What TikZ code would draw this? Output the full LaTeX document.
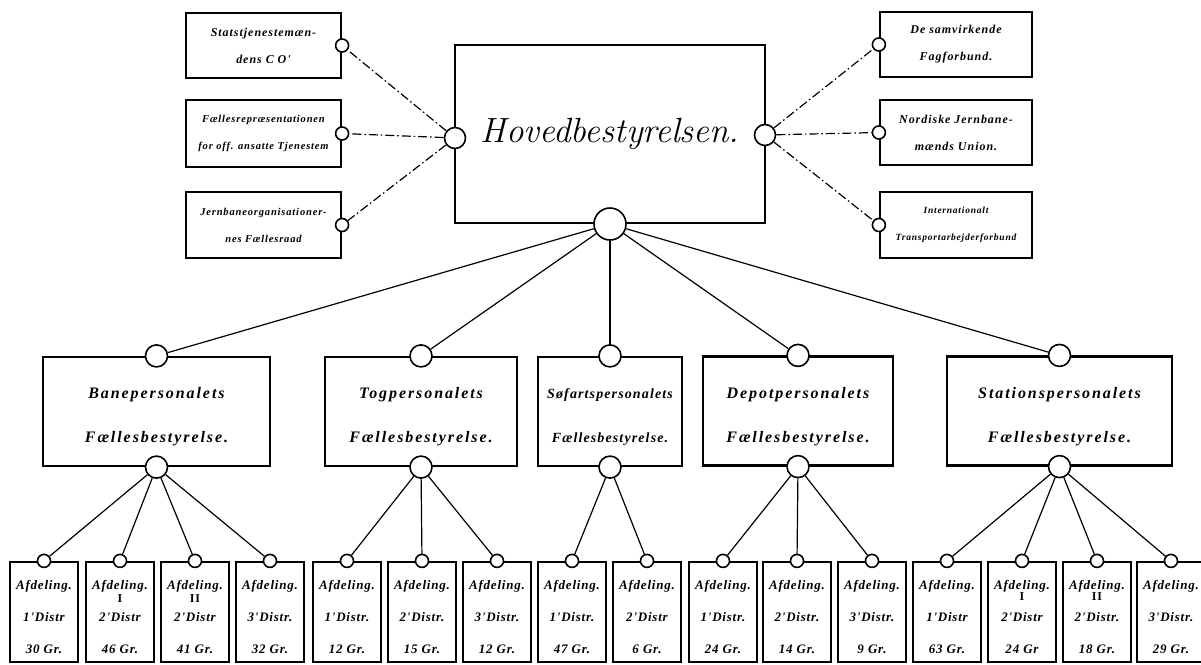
\documentclass[tikz,border=0pt]{standalone}
\usepackage{fontspec}
\newfontfamily\hand{Liberation Serif}[LetterSpace=8]
\newfontfamily\handwide{Liberation Serif}[LetterSpace=12]
\newfontfamily\handbot{Liberation Serif}[LetterSpace=6]
\newcommand\midstrut{\rule{0pt}{22pt}}
\newcommand\botstrut{\rule{0pt}{19pt}}
\begin{document}
\begin{tikzpicture}[x=1pt,y=-1pt,
  box/.style={draw, line width=2.2pt, fill=white, inner sep=0pt, align=center},
  side/.style={box, minimum width=155pt, font=\hand\bfseries\itshape\fontsize{10.5}{27}\selectfont},
  sidebig/.style={side, font=\hand\bfseries\itshape\fontsize{12}{27}\selectfont},
  mid/.style={box, minimum height=109pt, font=\handwide\bfseries\itshape\fontsize{16}{44}\selectfont},
  bot/.style={box, minimum width=68pt, minimum height=100pt, font=\handbot\bfseries\itshape\fontsize{13}{32}\selectfont},
  roman/.style={inner sep=0pt, font=\handbot\bfseries\fontsize{12}{12}\selectfont},
  knob/.style={circle, draw, fill=white, line width=1.6pt, inner sep=0pt, minimum size=#1},
  conn/.style={line width=1.2pt},
  dd/.style={line width=1.2pt, dash pattern=on 9pt off 3pt on 1.5pt off 3pt}
]
\fill[white] (0,0) rectangle (1201,664);
\useasboundingbox (0,0) rectangle (1201,664);

% central box
\node[box, minimum width=310pt, minimum height=178pt, font=\itshape\fontsize{35}{40}\selectfont] (hb) at (610,134) {Hovedbestyrelsen.};

% left side boxes
\node[sidebig, minimum height=65pt] (l1) at (263.5,45.5) {Statstjenestemæn-\\dens C O'};
\node[side, minimum height=67pt] (l2) at (263.5,133.5) {Fællesrepræsentationen\\for off. ansatte Tjenestem};
\node[side, minimum height=66pt] (l3) at (263.5,225) {Jernbaneorganisationer-\\nes Fællesraad};

% right side boxes
\node[sidebig, minimum width=152pt, minimum height=65pt] (r1) at (956,44.5) {De samvirkende\\Fagforbund.};
\node[sidebig, minimum width=152pt, minimum height=65pt] (r2) at (956,132.5) {Nordiske Jernbane-\\mænds Union.};
\node[side, minimum width=152pt, minimum height=66pt, font=\hand\bfseries\itshape\fontsize{9.5}{27}\selectfont] (r3) at (956,225) {Internationalt\\Transportarbejderforbund};

% middle row
\node[mid, minimum width=227pt] (m1) at (156.5,411.5) {\midstrut Banepersonalets\\Fællesbestyrelse.};
\node[mid, minimum width=192pt] (m2) at (421,411.5) {\midstrut Togpersonalets\\Fællesbestyrelse.};
\node[mid, minimum width=144pt, font=\hand\bfseries\itshape\fontsize{14}{44}\selectfont] (m3) at (610,411.5) {\midstrut Søfartspersonalets\\Fællesbestyrelse.};
\node[mid, minimum width=190pt] (m4) at (798,411) {\midstrut Depotpersonalets\\Fællesbestyrelse.};
\node[mid, minimum width=225pt] (m5) at (1059.5,411) {\midstrut Stationspersonalets\\Fællesbestyrelse.};

% bottom row
\foreach \i/\x/\a/\b in {
  1/44/1'Distr/30 Gr.,
  2/120/2'Distr/46 Gr.,
  3/195/2'Distr/41 Gr.,
  4/270/3'Distr./32 Gr.,
  5/347/1'Distr./12 Gr.,
  6/422/2'Distr./15 Gr.,
  7/497/3'Distr./12 Gr.,
  8/572/1'Distr./47 Gr.,
  9/647/2'Distr/6 Gr.,
  10/723/1'Distr./24 Gr.,
  11/797/2'Distr./14 Gr.,
  12/872/3'Distr./9 Gr.,
  13/947/1'Distr/63 Gr.,
  14/1022/2'Distr/24 Gr,
  15/1097/2'Distr./18 Gr.,
  16/1171/3'Distr./29 Gr.}
  {\node[bot] (b\i) at (\x,612) {\botstrut Afdeling.\\\a\\\b};}

\node[roman] (n2) at (120,599) {I};
\node[roman] (n3) at (195,599) {II};
\node[roman] (n14) at (1022,597) {I};
\node[roman] (n15) at (1097,597) {II};

% knobs
\node[knob=21pt] (cl) at (455,138) {};
\node[knob=21pt] (cr) at (765,135) {};
\node[knob=32pt] (cb) at (610,224) {};
\foreach \n in {l1,l2,l3} \node[knob=13pt] (c-\n) at (\n.east) {};
\foreach \n in {r1,r2,r3} \node[knob=13pt] (c-\n) at (\n.west) {};
\foreach \n in {m1,m2,m3,m4,m5} {
  \node[knob=22pt] (t-\n) at (\n.north) {};
  \node[knob=22pt] (b-\n) at (\n.south) {};
}
\foreach \i in {1,...,16} \node[knob=13pt] (bt\i) at (b\i.north) {};

% dash-dot connectors
\foreach \n in {l1,l2,l3} \draw[dd] (cl) -- (c-\n);
\foreach \n in {r1,r2,r3} \draw[dd] (cr) -- (c-\n);

% solid connectors
\foreach \n in {m1,m2,m3,m4,m5} \draw[conn] (cb) -- (t-\n);
\foreach \i in {1,...,4} \draw[conn] (b-m1) -- (bt\i);
\foreach \i in {5,6,7} \draw[conn] (b-m2) -- (bt\i);
\foreach \i in {8,9} \draw[conn] (b-m3) -- (bt\i);
\foreach \i in {10,11,12} \draw[conn] (b-m4) -- (bt\i);
\foreach \i in {13,...,16} \draw[conn] (b-m5) -- (bt\i);
\end{tikzpicture}
\end{document}
